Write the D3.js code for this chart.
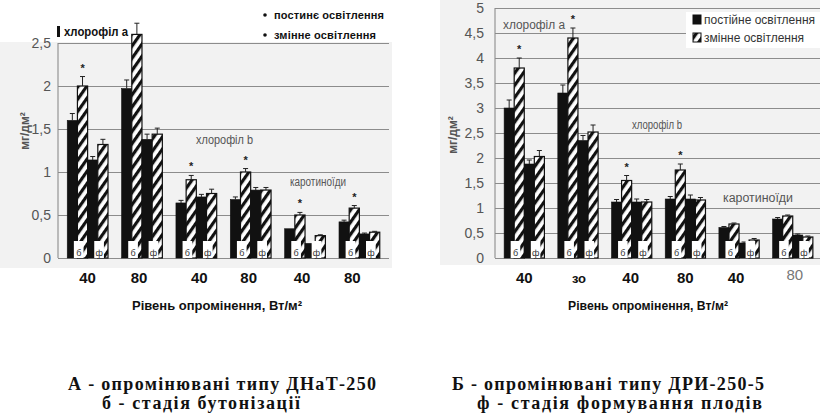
<!DOCTYPE html>
<html><head><meta charset="utf-8">
<script src="https://cdn.jsdelivr.net/npm/d3@7/dist/d3.min.js"></script>
<style>
html,body{margin:0;padding:0;background:#fff;}
svg{display:block;}
</style></head>
<body>
<svg id="chart" width="820" height="419"></svg>
<script>
// ---------- data ----------
const leftCategories  = ["40","80","40","80","40","80"];
const rightCategories = ["40","зо","40","80","40","80"];
const seriesNames = ["б постійне","б змінне","ф постійне","ф змінне"];

// Chart A (ДНаТ-250)
const leftBudConst   = [1.60, 1.97, 0.64, 0.68, 0.34, 0.42];
const leftBudVar     = [2.00, 2.60, 0.91, 1.00, 0.50, 0.58];
const leftFruitConst = [1.14, 1.38, 0.71, 0.79, 0.17, 0.28];
const leftFruitVar   = [1.32, 1.44, 0.75, 0.79, 0.26, 0.30];
const leftErrBudConst   = [0.08, 0.10, 0.03, 0.03, 0.00, 0.02];
const leftErrBudVar     = [0.11, 0.13, 0.05, 0.04, 0.03, 0.03];
const leftErrFruitConst = [0.04, 0.06, 0.03, 0.03, 0.00, 0.01];
const leftErrFruitVar   = [0.06, 0.07, 0.05, 0.03, 0.01, 0.01];
const leftStarGroups = [0, 2, 3, 4, 5];
const leftTicks = [0, 0.5, 1, 1.5, 2, 2.5];

// Chart Б (ДРИ-250-5)
const rightBudConst   = [3.00, 3.30, 1.12, 1.18, 0.61, 0.78];
const rightBudVar     = [3.80, 4.40, 1.55, 1.76, 0.68, 0.84];
const rightFruitConst = [1.88, 2.35, 1.12, 1.18, 0.30, 0.46];
const rightFruitVar   = [2.03, 2.52, 1.12, 1.16, 0.36, 0.42];
const rightErrBudConst   = [0.16, 0.16, 0.05, 0.05, 0.02, 0.03];
const rightErrBudVar     = [0.20, 0.20, 0.10, 0.12, 0.02, 0.02];
const rightErrFruitConst = [0.08, 0.10, 0.06, 0.08, 0.02, 0.02];
const rightErrFruitVar   = [0.12, 0.14, 0.05, 0.05, 0.03, 0.02];
const rightStarGroups = [0, 1, 2, 3];
const rightTicks = [0, 0.5, 1, 1.5, 2, 2.5, 3, 3.5, 4, 4.5, 5];

const legendLeft  = ["постинє освітлення", "змінне освітлення"];
const legendRight = ["постійне освітлення", "змінне освітлення"];
const xTitle = "Рівень опромінення, Вт/м²";
const yTitle = "мг/дм²";
const captionsLeft  = ["А - опромінювані типу ДНаТ-250", "б - стадія  бутонізації"];
const captionsRight = ["Б - опромінювані типу ДРИ-250-5", "ф - стадія  формування  плодів"];

// ---------- drawing ----------
const svg = d3.select("#chart");
const defs = svg.append("defs");
const pat = defs.append("pattern").attr("id","hatch")
  .attr("patternUnits","userSpaceOnUse").attr("width",7).attr("height",7)
  .attr("patternTransform","rotate(35)");
pat.append("rect").attr("width",7).attr("height",7).attr("fill","#fff");
pat.append("rect").attr("x",0).attr("y",0).attr("width",3.2).attr("height",7).attr("fill","#111");

const fmt = d => String(d).replace(".", ",");

function drawChart(cfg) {
  const g = svg.append("g");
  g.append("rect").attr("x",cfg.bg[0]).attr("y",cfg.bg[1]).attr("width",cfg.bg[2]).attr("height",cfg.bg[3]).attr("fill","#f2f2f2");

  const y = d3.scaleLinear().domain([0, cfg.max]).range([258, cfg.top]);
  const x = d3.scaleBand().domain(d3.range(cfg.cats.length)).range(cfg.xr)
    .paddingInner(0.25).paddingOuter(0.17);
  const xs = d3.scaleBand().domain(d3.range(4)).range([0, x.bandwidth()]).padding(0);

  const ax = g.append("g").attr("transform",`translate(${cfg.axisX},0)`)
    .call(d3.axisLeft(y).tickValues(cfg.ticks).tickFormat(fmt).tickSize(-(cfg.gridEnd - cfg.axisX)).tickPadding(cfg.tickPad));
  ax.select(".domain").remove();
  ax.selectAll(".tick line").attr("stroke","#8c8c8c").attr("stroke-width",1.1);
  ax.selectAll(".tick text").attr("fill","#555").attr("font-family","Liberation Sans, Arial, sans-serif")
    .attr("font-size",cfg.tickFont);
  g.append("line").attr("x1",cfg.axisX).attr("x2",cfg.axisX).attr("y1",y(cfg.max)).attr("y2",258)
    .attr("stroke","#8c8c8c").attr("stroke-width",1.1);

  cfg.boxes.forEach(b => g.append("rect").attr("x",b[0]).attr("y",b[1]).attr("width",b[2]).attr("height",b[3]).attr("fill","#fff"));

  const series = cfg.series;
  const errs = cfg.errs;
  series.forEach((vals, si) => {
    const hatched = si % 2 === 1;
    g.selectAll(null).data(vals).enter().append("rect")
      .attr("x",(d,i)=> x(i) + xs(si))
      .attr("y",d => y(d))
      .attr("width", xs.bandwidth())
      .attr("height", d => 258 - y(d))
      .attr("fill", hatched ? "url(#hatch)" : "#111")
      .attr("stroke","#111").attr("stroke-width", hatched ? 1.2 : 0.6);
    g.selectAll(null).data(vals).enter().append("path")
      .attr("d",(d,i)=>{
        const cx = x(i) + xs(si) + xs.bandwidth()/2;
        const e = errs[si][i];
        if (e <= 0) return "";
        return `M${cx},${y(d)}V${y(d+e)}M${cx-2.5},${y(d+e)}H${cx+2.5}`;
      })
      .attr("stroke","#222").attr("stroke-width",1).attr("fill","none");
  });

  ["б","ф"].forEach((lab, k) => {
    const si = k*2 + 1;
    cfg.cats.forEach((c,i) => {
      const bx = x(i) + xs(si) - xs.bandwidth()*0.35;
      const bw = xs.bandwidth()*0.95;
      g.append("rect").attr("x",bx).attr("y",258 - cfg.boxH).attr("width",bw).attr("height",cfg.boxH)
        .attr("fill","#fff");
      g.append("text").attr("x",bx + bw/2).attr("y",256).attr("text-anchor","middle")
        .attr("font-family","Liberation Sans, Arial, sans-serif").attr("font-size",9).attr("fill","#333").text(lab);
    });
  });

  cfg.stars.forEach(i => {
    const si = 1;
    const v = series[si][i] + errs[si][i];
    g.append("text").attr("x", x(i)+xs(si)+xs.bandwidth()/2).attr("y", y(v) - 5)
      .attr("text-anchor","middle").attr("font-family","Liberation Sans, Arial, sans-serif")
      .attr("font-size",11).attr("font-weight","bold").attr("fill","#222").text("*");
  });

  g.selectAll(null).data(cfg.cats).enter().append("text")
    .attr("x",(d,i)=> x(i) + x.bandwidth()/2 + cfg.labelShift[i])
    .attr("y",(d,i)=> 283 + (cfg.lastGray && i===5 ? -3 : 0))
    .attr("text-anchor","middle")
    .attr("font-family","Liberation Sans, Arial, sans-serif")
    .attr("font-size",(d,i)=> d==="зо" ? 13 : 15)
    .attr("font-weight",(d,i)=> (cfg.lastGray && i===5) ? "normal" : "bold")
    .attr("fill",(d,i)=> (cfg.lastGray && i===5) ? "#777" : "#111")
    .text(d=>d);

  g.append("text").attr("x",cfg.xTitle[0]).attr("y",cfg.xTitle[1])
    .attr("textLength",cfg.xTitle[2]).attr("lengthAdjust","spacingAndGlyphs")
    .attr("font-family","Liberation Sans, Arial, sans-serif").attr("font-weight","bold")
    .attr("font-size",13).attr("fill","#111").text(xTitle);

  g.append("text").attr("transform",`translate(${cfg.yTitle[0]},${cfg.yTitle[1]}) rotate(-90)`)
    .attr("text-anchor","middle").attr("font-family","Liberation Sans, Arial, sans-serif")
    .attr("font-weight","bold").attr("font-size",12).attr("fill","#555").text(yTitle);

  cfg.inner.forEach(t => {
    g.append("text").attr("x",t[1]).attr("y",t[2]).attr("font-family","Liberation Sans, Arial, sans-serif")
      .attr("font-size",12).attr("fill","#555").attr("textLength",t[3]).attr("lengthAdjust","spacingAndGlyphs").text(t[0]);
  });
  return {x, xs, y, g};
}

drawChart({
  max: 2.5, top: 43, xr:[58, 389], axisX: 58, gridEnd: 389, ticks: leftTicks, tickPad: 7, tickFont: 14,
  bg:[0, 42, 392, 226], boxes:[[258,0,132,42],[54,22,78,19]], boxH: 17,
  series:[leftBudConst,leftBudVar,leftFruitConst,leftFruitVar],
  errs:[leftErrBudConst,leftErrBudVar,leftErrFruitConst,leftErrFruitVar],
  stars:leftStarGroups, cats:leftCategories, labelShift:[0,-3,3,-2,-3,-7], lastGray:false,
  xTitle:[132, 310, 170], yTitle:[29, 131],
  inner:[["хлорофіл b",196,144,57],["каротиноїди",290,186,56]]
});

drawChart({
  max: 5, top: 8, xr:[495, 822], axisX: 495, gridEnd: 820, ticks: rightTicks, tickPad: 11, tickFont: 14,
  bg:[440, 0, 380, 265], boxes:[[686,12,134,36]], boxH: 17,
  series:[rightBudConst,rightBudVar,rightFruitConst,rightFruitVar],
  errs:[rightErrBudConst,rightErrBudVar,rightErrFruitConst,rightErrFruitVar],
  stars:rightStarGroups, cats:rightCategories, labelShift:[0,1,-1,0,-3,2], lastGray:true,
  xTitle:[568, 310, 160], yTitle:[457, 135],
  inner:[["хлорофіл а",503,29,62],["хлорофіл b",632,129,50],["каротиноїди",723,202,70]]
});

// left legend
svg.append("rect").attr("x",57).attr("y",26).attr("width",3).attr("height",11).attr("fill","#111");
svg.append("text").attr("x",64).attr("y",36).attr("font-family","Liberation Sans, Arial, sans-serif")
  .attr("font-weight","bold").attr("font-size",13).attr("fill","#111").attr("textLength",64)
  .attr("lengthAdjust","spacingAndGlyphs").text("хлорофіл а");
legendLeft.forEach((t,i)=>{
  const yy = 19 + i*20;
  svg.append("circle").attr("cx",265).attr("cy",yy-4).attr("r",1.8).attr("fill","#111");
  svg.append("text").attr("x",274).attr("y",yy).attr("font-family","Liberation Sans, Arial, sans-serif")
    .attr("font-weight","bold").attr("font-size",11).attr("fill","#111")
    .attr("textLength", i===0 ? 110 : 102).attr("lengthAdjust","spacing").text(t);
});

// right legend
legendRight.forEach((t,i)=>{
  const yy = 24 + i*18;
  svg.append("rect").attr("x",693).attr("y",yy-9).attr("width",8).attr("height",9)
    .attr("fill", i===0 ? "#111" : "url(#hatch)").attr("stroke","#111").attr("stroke-width",1);
  svg.append("text").attr("x",704).attr("y",yy).attr("font-family","Liberation Sans, Arial, sans-serif")
    .attr("font-size",12).attr("fill","#333").text(t);
});

// captions
function caption(lines, xs, ws) {
  lines.forEach((t,i)=>{
    svg.append("text").attr("x",xs[i]).attr("y", 390 + i*19)
      .attr("font-family","Liberation Serif, Times New Roman, serif").attr("font-weight","bold")
      .attr("font-size",18).attr("fill","#111")
      .attr("textLength",ws[i]).attr("lengthAdjust","spacing").text(t);
  });
}
caption(captionsLeft, [68, 102], [308, 198]);
caption(captionsRight, [452, 477], [312, 285]);
</script>
</body></html>
